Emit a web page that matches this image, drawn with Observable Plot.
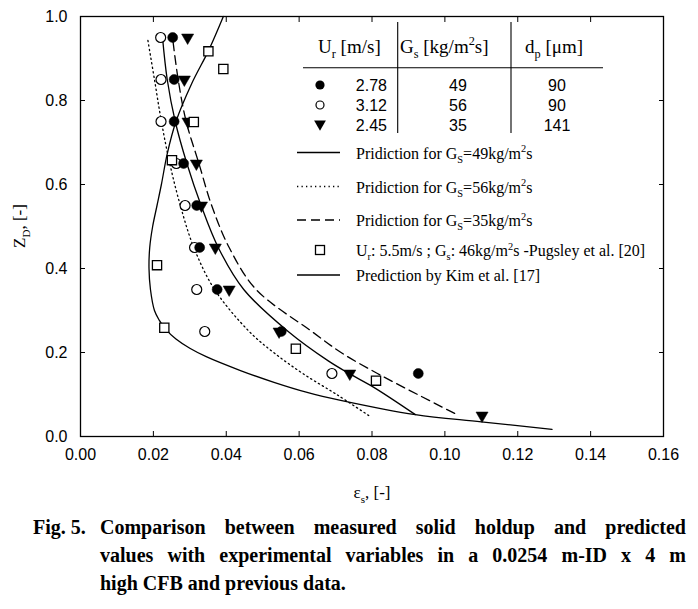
<!DOCTYPE html>
<html>
<head>
<meta charset="utf-8">
<script src="https://cdn.jsdelivr.net/npm/d3@7"></script>
<script src="https://cdn.jsdelivr.net/npm/@observablehq/plot@0.6"></script>
<style>
  body { margin: 0; background: white; }
  #wrap { position: relative; width: 698px; height: 609px; background: white; }
  #chart { position: absolute; left: 0; top: 0; }
  #overlay { position: absolute; left: 0; top: 0; }
  .cap { position: absolute; font-family: "Liberation Serif", "Times New Roman", serif; font-weight: bold; font-size: 20px; line-height: 28px; white-space: nowrap; color: black; }
  .just { text-align: justify; text-align-last: justify; white-space: normal; }
</style>
</head>
<body>
<div id="wrap">
  <div id="chart"></div>
  <svg id="overlay" width="698" height="609"></svg>
  <div class="cap" style="left:33px; top:513px;">Fig. 5.</div>
  <div class="cap just" style="left:100px; top:513px; width:586px;">Comparison between measured solid holdup and predicted</div>
  <div class="cap just" style="left:100px; top:541px; width:586px;">values with experimental variables in a 0.0254 m-ID x 4 m</div>
  <div class="cap" style="left:100px; top:569px;">high CFB and previous data.</div>
</div>
<script>
// ---- tick values ----
const xTicks = [0, 0.02, 0.04, 0.06, 0.08, 0.10, 0.12, 0.14, 0.16];
const yTicks = [0, 0.2, 0.4, 0.6, 0.8, 1.0];

// ---- measured data: Ur = 2.78 m/s (filled circles) ----
const filledEps = [0.0253, 0.0257, 0.0257, 0.0283, 0.0319, 0.0327, 0.0375, 0.0551, 0.0927];
const filledZ   = [0.95, 0.85, 0.75, 0.65, 0.55, 0.45, 0.35, 0.25, 0.15];
// ---- Ur = 3.12 m/s (open circles) ----
const openEps = [0.0220, 0.0221, 0.0221, 0.0263, 0.0287, 0.0313, 0.0319, 0.0341, 0.0690];
const openZ   = [0.95, 0.85, 0.75, 0.65, 0.55, 0.45, 0.35, 0.25, 0.15];
// ---- Ur = 2.45 m/s (down triangles) ----
const triEps = [0.0294, 0.0285, 0.0295, 0.0318, 0.0332, 0.0370, 0.0408, 0.0545, 0.0739, 0.1102];
const triZ   = [0.95, 0.85, 0.75, 0.65, 0.55, 0.45, 0.35, 0.25, 0.15, 0.05];
// ---- Pugsley et al. (open squares) ----
const sqEps = [0.0351, 0.0392, 0.0311, 0.0251, 0.0210, 0.0230, 0.0591, 0.0811];
const sqZ   = [0.917, 0.875, 0.749, 0.658, 0.408, 0.259, 0.209, 0.133];

// ---- prediction Gs = 49 (solid) ----
const p49Eps = [0.0225, 0.0238, 0.0260, 0.0292, 0.0331, 0.0378, 0.0448, 0.0570, 0.0680, 0.0739, 0.0805, 0.0919];
const p49Z   = [0.951, 0.85, 0.75, 0.65, 0.55, 0.45, 0.35, 0.25, 0.18, 0.149, 0.117, 0.052];
// ---- prediction Gs = 56 (dotted) ----
const p56Eps = [0.0185, 0.0203, 0.0222, 0.0245, 0.0274, 0.0311, 0.0368, 0.0463, 0.0530, 0.0610, 0.0703, 0.0791];
const p56Z   = [0.943, 0.85, 0.75, 0.65, 0.55, 0.45, 0.35, 0.25, 0.20, 0.15, 0.10, 0.05];
// ---- prediction Gs = 35 (dashed) ----
const p35Eps = [0.0254, 0.0268, 0.0290, 0.0325, 0.0360, 0.0408, 0.0482, 0.0635, 0.0715, 0.0815, 0.0925, 0.1038];
const p35Z   = [0.940, 0.85, 0.75, 0.65, 0.55, 0.45, 0.35, 0.25, 0.20, 0.15, 0.10, 0.05];
// ---- prediction by Kim et al. (solid) ----
const kimEps = [0.1294, 0.1100, 0.0919, 0.0714, 0.0622, 0.0531, 0.0439, 0.0345, 0.0300, 0.0262, 0.0234, 0.0216, 0.0203, 0.0192, 0.0188, 0.0190, 0.0198, 0.0210, 0.0222, 0.0238, 0.0262, 0.0305, 0.0352, 0.0392];
const kimZ   = [0.017, 0.035, 0.052, 0.086, 0.105, 0.129, 0.157, 0.190, 0.210, 0.232, 0.255, 0.277, 0.300, 0.350, 0.400, 0.450, 0.500, 0.550, 0.600, 0.673, 0.750, 0.840, 0.920, 1.0];

const zip = (xs, ys) => xs.map((x, i) => ({x, y: ys[i]}));

const lineStyle = {x: "x", y: "y", curve: "catmull-rom", stroke: "black", strokeWidth: 1.3};

const chart = Plot.plot({
  width: 698,
  height: 505,
  marginLeft: 80,
  marginRight: 35,
  marginTop: 16,
  marginBottom: 69,
  x: {domain: [0, 0.16]},
  y: {domain: [0, 1]},
  style: {fontFamily: "'Liberation Sans', Arial, sans-serif", fontSize: "16px", color: "black", background: "white", overflow: "visible"},
  marks: [
    Plot.line(zip(p56Eps, p56Z), {...lineStyle, strokeDasharray: "1.3,3.2"}),
    Plot.line(zip(p35Eps, p35Z), {...lineStyle, strokeDasharray: "9,5"}),
    Plot.line(zip(p49Eps, p49Z), lineStyle),
    Plot.line(zip(kimEps, kimZ), lineStyle),
    Plot.dot(zip(openEps, openZ), {x: "x", y: "y", r: 5, fill: "white", stroke: "black", strokeWidth: 1.2}),
    Plot.dot(zip(triEps, triZ), {x: "x", y: "y", symbol: "triangle", rotate: 180, r: 4.5, fill: "black", stroke: "black", strokeWidth: 0.5}),
    Plot.dot(zip(filledEps, filledZ), {x: "x", y: "y", r: 5, fill: "black", stroke: "black", strokeWidth: 0.5}),
    Plot.dot(zip(sqEps, sqZ), {x: "x", y: "y", symbol: "square", r: 5.2, fill: "white", stroke: "black", strokeWidth: 1.3}),
    Plot.frame({stroke: "black", strokeWidth: 1.3}),
    Plot.axisX({ticks: xTicks, tickFormat: d3.format(".2f"), tickSize: -5, tickPadding: 17, label: null, fontSize: 16}),
    Plot.axisX({anchor: "top", ticks: xTicks, tickFormat: () => "", tickSize: -5, label: null}),
    Plot.axisY({ticks: yTicks, tickFormat: d3.format(".1f"), tickSize: -5, tickPadding: 18, label: null, fontSize: 16}),
    Plot.axisY({anchor: "right", ticks: yTicks, tickFormat: () => "", tickSize: -5, label: null})
  ]
});
document.getElementById("chart").appendChild(chart);

// ---- legend + axis titles overlay ----
const ov = d3.select("#overlay");
const serif = "'Liberation Serif', 'Times New Roman', serif";
const sans = "'Liberation Sans', Arial, sans-serif";

// table rules
ov.append("line").attr("x1", 303).attr("x2", 603).attr("y1", 67.7).attr("y2", 67.7).attr("stroke", "black").attr("stroke-width", 1.1);
ov.append("line").attr("x1", 397.7).attr("x2", 397.7).attr("y1", 22).attr("y2", 133).attr("stroke", "black").attr("stroke-width", 1.1);
ov.append("line").attr("x1", 511).attr("x2", 511).attr("y1", 22).attr("y2", 133).attr("stroke", "black").attr("stroke-width", 1.1);

// rich text helper: parts = [[text, "n"|"sub"|"sup"], ...]
function rich(x, y, parts, size, family, anchor) {
  const t = ov.append("text").attr("x", x).attr("y", y).attr("font-family", family).attr("font-size", size).attr("fill", "black");
  if (anchor) t.attr("text-anchor", anchor);
  let cur = 0;
  for (const [s, kind] of parts) {
    const target = kind === "sub" ? size * 0.28 : kind === "sup" ? -size * 0.4 : 0;
    const sp = t.append("tspan").attr("dy", target - cur).text(s);
    if (kind !== "n") sp.attr("font-size", size * 0.65);
    cur = target;
  }
  return t;
}

// header
const headers = [
  {x: 318, parts: [["U", "n"], ["r", "sub"], [" [m/s]", "n"]]},
  {x: 400, parts: [["G", "n"], ["s", "sub"], [" [kg/m", "n"], ["2", "sup"], ["s]", "n"]]},
  {x: 525, parts: [["d", "n"], ["p", "sub"], [" [\u03bcm]", "n"]]}
];
headers.forEach(h => rich(h.x, 53, h.parts, 19, serif));

// table rows
const urVals = ["2.78", "3.12", "2.45"];
const gsVals = ["49", "56", "35"];
const dpVals = ["90", "90", "141"];
const rowY = [85, 105, 125];
rowY.forEach((y, i) => {
  ov.append("text").attr("x", 387).attr("y", y + 6).attr("text-anchor", "end").attr("font-family", sans).attr("font-size", 16).text(urVals[i]);
  ov.append("text").attr("x", 458).attr("y", y + 6).attr("text-anchor", "middle").attr("font-family", sans).attr("font-size", 16).text(gsVals[i]);
  ov.append("text").attr("x", 557).attr("y", y + 6).attr("text-anchor", "middle").attr("font-family", sans).attr("font-size", 16).text(dpVals[i]);
});
ov.append("circle").attr("cx", 320).attr("cy", 85).attr("r", 4.6).attr("fill", "black");
ov.append("circle").attr("cx", 320).attr("cy", 105).attr("r", 4).attr("fill", "white").attr("stroke", "black").attr("stroke-width", 1.2);
ov.append("path").attr("d", d3.symbol(d3.symbolTriangle, 60)()).attr("transform", "translate(320,124) rotate(180)").attr("fill", "black");

// line entries
const entries = [
  {y: 152.5, dash: null, parts: [["Pridiction for G", "n"], ["S", "sub"], ["=49kg/m", "n"], ["2", "sup"], ["s", "n"]]},
  {y: 186.5, dash: "1.3,3.2", parts: [["Pridiction for G", "n"], ["S", "sub"], ["=56kg/m", "n"], ["2", "sup"], ["s", "n"]]},
  {y: 220, dash: "9,5", parts: [["Pridiction for G", "n"], ["S", "sub"], ["=35kg/m", "n"], ["2", "sup"], ["s", "n"]]},
  {y: 275, dash: null, parts: [["Prediction by Kim et al. [17]", "n"]]}
];
entries.forEach(e => {
  const l = ov.append("line").attr("x1", 297).attr("x2", 340).attr("y1", e.y).attr("y2", e.y).attr("stroke", "black").attr("stroke-width", 1.3);
  if (e.dash) l.attr("stroke-dasharray", e.dash);
  rich(356, e.y + 6, e.parts, 16, serif);
});
ov.append("rect").attr("x", 315.5).attr("y", 245.5).attr("width", 9).attr("height", 9).attr("fill", "white").attr("stroke", "black").attr("stroke-width", 1.3);
rich(356, 256, [["U", "n"], ["r", "sub"], [": 5.5m/s ; G", "n"], ["s", "sub"], [": 46kg/m", "n"], ["2", "sup"], ["s -Pugsley et al. [20]", "n"]], 16, serif);

// axis titles
rich(372, 498, [["\u03b5", "n"], ["s", "sub"], [", [-]", "n"]], 17, serif, "middle");
const yl = rich(0, 0, [["Z", "n"], ["D", "sub"], [", [-]", "n"]], 17, serif, "middle");
yl.attr("transform", "translate(25,226) rotate(-90)");
</script>
</body>
</html>
